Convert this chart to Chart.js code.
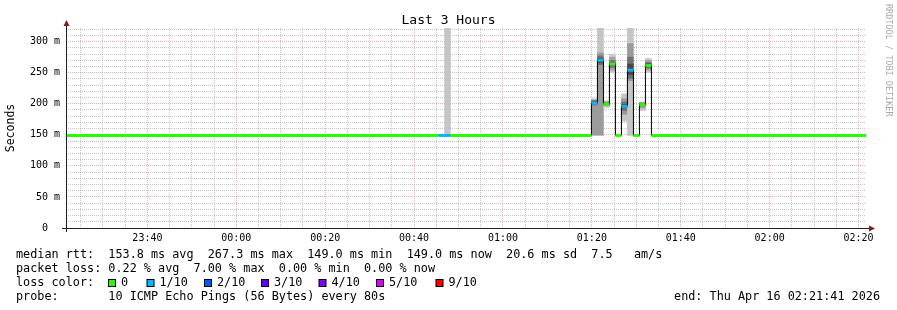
<!DOCTYPE html>
<html>
<head>
<meta charset="utf-8">
<title>Last 3 Hours</title>
<script src="https://cdn.jsdelivr.net/npm/chart.js@4.4.1/dist/chart.umd.min.js"></script>
<style>
  html, body { margin: 0; padding: 0; background: #fff; }
  canvas { display: block; }
</style>
</head>
<body>
<canvas id="graph" width="897" height="310"></canvas>
<script>
// x values are minutes from 00:00 Apr 16, graph runs 23:21:41 .. 02:21:41
var startMin = -38.32;
var endMin = 141.68;
var timeLabels = ['23:40', '00:00', '00:20', '00:40', '01:00', '01:20', '01:40', '02:00', '02:20'];
var yLabels = ['0  ', '50 m', '100 m', '150 m', '200 m', '250 m', '300 m'];

// median rtt (ms) as steps, each one holds until the next start
var stepStart  = [-38.32, 45.5, 48.2, 79.9, 81.25, 82.6, 83.95, 85.3, 86.65, 88.0, 89.35, 90.7, 92.05, 93.4];
var stepMedian = [149, 149, 149, 201, 270, 199.5, 264, 149, 196, 254, 149, 198.5, 261.5, 149];
var stepLoss   = [0, 1, 0, 1, 1, 0, 0, 0, 1, 1, 0, 0, 0, 0];

// smoke: bin centre and the sorted ping times (ms) in that bin
var smokeTime = [47.525, 80.575, 81.925, 83.275, 84.625, 87.325, 88.675, 91.375, 92.725];
var smokePings = [
  [149, 149, 149, 149, 149, 149, 149, 149, 360],
  [149, 149, 197, 199, 201, 203, 205, 206, 208],
  [149, 149, 262, 265, 270, 273, 277, 282, 345],
  [194, 196, 197, 198, 199, 200, 201, 202, 203, 205],
  [250, 253, 257, 260, 263, 265, 267, 270, 275, 280],
  [172, 182, 188, 193, 196, 199, 203, 208, 216],
  [149, 236, 240, 246, 254, 264, 275, 297, 345],
  [189, 192, 195, 197, 198, 199, 200, 201, 202, 203],
  [250, 253, 256, 258, 260, 263, 265, 267, 270, 273]
];

var lossLevels = [0, 1, 2, 3, 4, 5, 9];
var lossLabels = ['0', '1/10', '2/10', '3/10', '4/10', '5/10', '9/10'];
var lossColors = ['#26ff00', '#00b8ff', '#0059ff', '#5e00ff', '#7e00ff', '#dd00ff', '#ff0000'];

var legendLines = [
  'median rtt:  153.8 ms avg  267.3 ms max  149.0 ms min  149.0 ms now  20.6 ms sd  7.5   am/s',
  'packet loss: 0.22 % avg  7.00 % max  0.00 % min  0.00 % now',
  'loss color:',
  'probe:       10 ICMP Echo Pings (56 Bytes) every 80s'
];
var endText = 'end: Thu Apr 16 02:21:41 2026';

var FONT = 'DejaVu Sans Mono';
var minorGrid = 'rgba(143,143,143,0.5)';
var majorGrid = 'rgba(222,79,79,0.45)';

function lossColor(loss) {
  var c = lossColors[0];
  lossLevels.forEach(function (l, i) { if (loss >= l) c = lossColors[i]; });
  return c;
}

// smokeping style shade: outer pings light, the ones near the median dark
function smokeGray(n, band) {
  var half = n / 2;
  var g = Math.floor(190 / half * Math.abs(half - band)) + 50;
  return 'rgb(' + g + ',' + g + ',' + g + ')';
}

var datasets = [];

// coloured median, one flat piece per step
var medianPts = [];
stepStart.forEach(function (s, i) {
  var e = i + 1 < stepStart.length ? stepStart[i + 1] : endMin;
  medianPts.push({x: s, y: stepMedian[i], loss: stepLoss[i]});
  medianPts.push({x: e, y: stepMedian[i], loss: stepLoss[i]});
  medianPts.push({x: e, y: null});
});
datasets.push({
  type: 'line', data: medianPts, order: 0,
  borderWidth: 3, borderCapStyle: 'butt', pointRadius: 0, spanGaps: false,
  borderColor: lossColors[0],
  segment: {
    borderColor: function (ctx) { return lossColor(medianPts[ctx.p0DataIndex].loss); }
  }
});

// thin black step line joining the medians
var stepPts = stepStart.map(function (s, i) { return {x: s, y: stepMedian[i]}; });
stepPts.push({x: endMin, y: stepMedian[stepMedian.length - 1]});
datasets.push({
  type: 'line', data: stepPts, order: 1, stepped: true,
  borderColor: '#000', borderWidth: 1, pointRadius: 0
});

// smoke bands
for (var b = 0; b < 9; b++) {
  var pts = [];
  smokePings.forEach(function (p, k) {
    if (b + 1 < p.length) pts.push({x: smokeTime[k], y: [p[b], p[b + 1]], n: p.length, band: b + 1});
  });
  datasets.push({
    type: 'bar', data: pts, order: 10,
    backgroundColor: function (c) { return c.raw ? smokeGray(c.raw.n, c.raw.band) : '#ccc'; },
    borderWidth: 0, grouped: false, barPercentage: 1, categoryPercentage: 1, clip: 0
  });
}

var extras = {
  id: 'extras',
  afterDraw: function (chart) {
    var ctx = chart.ctx;
    ctx.save();

    // axes with arrows
    ctx.strokeStyle = '#1f1f1f';
    ctx.lineWidth = 1;
    ctx.beginPath();
    ctx.moveTo(62, 228.5); ctx.lineTo(870, 228.5);
    ctx.moveTo(66.5, 232); ctx.lineTo(66.5, 24);
    ctx.stroke();
    ctx.fillStyle = '#7f1f1f';
    ctx.beginPath();
    ctx.moveTo(869, 225.5); ctx.lineTo(875, 228.5); ctx.lineTo(869, 231.5);
    ctx.closePath(); ctx.fill();
    ctx.beginPath();
    ctx.moveTo(63.5, 26); ctx.lineTo(66.5, 20); ctx.lineTo(69.5, 26);
    ctx.closePath(); ctx.fill();

    // title
    ctx.fillStyle = '#000';
    ctx.font = '13px "' + FONT + '"';
    ctx.textAlign = 'center';
    ctx.textBaseline = 'alphabetic';
    ctx.fillText('Last 3 Hours', 448.5, 24);

    // watermark
    ctx.save();
    ctx.translate(885.5, 4);
    ctx.rotate(Math.PI / 2);
    ctx.font = '8.5px "' + FONT + '"';
    ctx.fillStyle = '#aaa';
    ctx.textAlign = 'left';
    ctx.fillText('RRDTOOL / TOBI OETIKER', 0, 0);
    ctx.restore();

    // legend
    ctx.font = '11.8px "' + FONT + '"';
    ctx.textAlign = 'left';
    ctx.fillStyle = '#000';
    legendLines.forEach(function (line, i) {
      ctx.fillText(line, 16, 258 + i * 14);
    });
    var boxX = [108, 146.5, 204, 261, 318.5, 376, 435.5];
    lossLabels.forEach(function (lab, i) {
      ctx.fillStyle = lossColors[i];
      ctx.fillRect(boxX[i] + 0.5, 279.5, 7, 7);
      ctx.strokeStyle = '#000';
      ctx.strokeRect(boxX[i] + 0.5, 279.5, 7, 7);
      ctx.fillStyle = '#000';
      ctx.fillText(lab, boxX[i] + 13, 286);
    });
    ctx.textAlign = 'right';
    ctx.fillText(endText, 880, 300);

    ctx.restore();
  }
};

Chart.defaults.font.family = FONT;
Chart.defaults.color = '#000';

new Chart(document.getElementById('graph'), {
  type: 'line',
  data: {datasets: datasets},
  options: {
    responsive: false,
    devicePixelRatio: 1,
    animation: false,
    layout: {padding: {left: 0, top: 28, right: 31, bottom: 0}},
    plugins: {legend: {display: false}, tooltip: {enabled: false}},
    scales: {
      x: {
        type: 'linear', min: startMin, max: endMin, offset: false,
        afterBuildTicks: function (s) {
          var t = [];
          for (var v = -35; v <= 140; v += 5) t.push({value: v});
          s.ticks = t;
        },
        afterFit: function (s) { s.height = 82; },
        grid: {
          offset: false, drawTicks: false, lineWidth: 1,
          color: function (c) { return c.tick && c.tick.value % 20 === 0 ? majorGrid : minorGrid; }
        },
        border: {display: false, dash: [1, 1]},
        ticks: {
          autoSkip: false, maxRotation: 0, padding: 4, font: {size: 10},
          callback: function (v) { return v % 20 === 0 ? timeLabels[(v + 20) / 20] : ''; }
        }
      },
      y: {
        type: 'linear', min: 0, max: 322,
        afterBuildTicks: function (s) {
          var t = [];
          for (var v = 0; v <= 320; v += 10) t.push({value: v});
          s.ticks = t;
        },
        afterFit: function (s) { s.width = 66; },
        grid: {
          drawTicks: false, lineWidth: 1,
          color: function (c) { return c.tick && c.tick.value % 50 === 0 ? majorGrid : minorGrid; }
        },
        border: {display: false, dash: [1, 1]},
        ticks: {
          autoSkip: false, padding: 6, font: {size: 10},
          callback: function (v) { return v % 50 === 0 ? yLabels[v / 50] : ''; }
        },
        title: {display: true, text: 'Seconds', font: {size: 11.5}, padding: {top: 4.5, bottom: 0}}
      }
    }
  },
  plugins: [extras]
});
</script>
</body>
</html>
